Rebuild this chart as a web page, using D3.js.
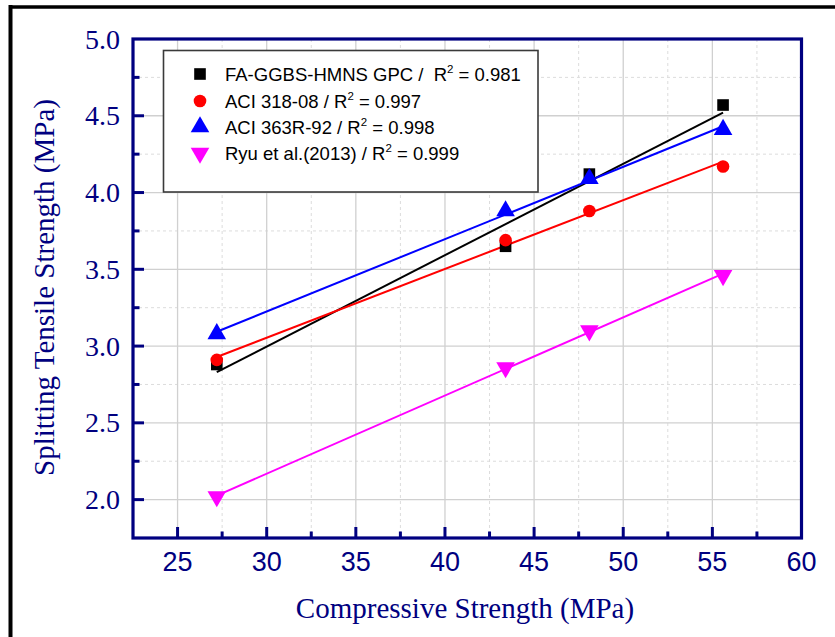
<!DOCTYPE html>
<html>
<head>
<meta charset="utf-8">
<script src="https://cdn.jsdelivr.net/npm/d3@7"></script>
<style>
  html, body { margin: 0; padding: 0; background: #fff; }
  svg { display: block; }
  text { white-space: pre; }
</style>
</head>
<body>
<svg id="chart" width="835" height="637"></svg>
<script>
// Compressive strength of the four mixes (MPa)
const compressive = [27.2, 43.4, 48.1, 55.6];

// Splitting tensile strength (MPa), measured and predicted
const measuredGPC = [2.88, 3.65, 4.12, 4.57];
const aci318 = [2.91, 3.69, 3.88, 4.17];
const aci363 = [3.08, 3.88, 4.09, 4.41];
const ryu2013 = [2.02, 2.86, 3.10, 3.46];

const seriesNames = ["FA-GGBS-HMNS GPC /  R", "ACI 318-08 / R", "ACI 363R-92 / R", "Ryu et al.(2013) / R"];
const rSquared = ["0.981", "0.997", "0.998", "0.999"];
const seriesColors = ["#000000", "#ff0000", "#0000ff", "#ff00ff"];
const seriesSymbols = [d3.symbolSquare, d3.symbolCircle, d3.symbolTriangle, "down"];

const xMajorTicks = [25, 30, 35, 40, 45, 50, 55, 60];
const xMinorTicks = [27.5, 32.5, 37.5, 42.5, 47.5, 52.5, 57.5];
const yMajorTicks = [2.0, 2.5, 3.0, 3.5, 4.0, 4.5, 5.0];
const yMinorTicks = [2.25, 2.75, 3.25, 3.75, 4.25, 4.75];

const allSeries = [measuredGPC, aci318, aci363, ryu2013];

const navy = "#000080";
const svg = d3.select("#chart");

// outer frame (top and left edges)
svg.append("line").attr("x1", 10).attr("x2", 835).attr("y1", 7).attr("y2", 7)
  .attr("stroke", "#000").attr("stroke-width", 3.5);
svg.append("line").attr("x1", 10.5).attr("x2", 10.5).attr("y1", 5).attr("y2", 637)
  .attr("stroke", "#000").attr("stroke-width", 4);

const plot = { left: 133, top: 39, right: 801.5, bottom: 538 };

const x = d3.scaleLinear().domain([22.5, 60]).range([plot.left, plot.right]);
const y = d3.scaleLinear().domain([1.75, 5.0]).range([plot.bottom, plot.top]);

const g = svg.append("g");

// grid: minor dashed, major solid
g.selectAll(".gxm").data(xMinorTicks).join("line")
  .attr("x1", d => x(d)).attr("x2", d => x(d)).attr("y1", plot.top).attr("y2", plot.bottom)
  .attr("stroke", "#dcdcdc").attr("stroke-width", 1).attr("stroke-dasharray", "3,3");
g.selectAll(".gym").data(yMinorTicks).join("line")
  .attr("x1", plot.left).attr("x2", plot.right).attr("y1", d => y(d)).attr("y2", d => y(d))
  .attr("stroke", "#dcdcdc").attr("stroke-width", 1).attr("stroke-dasharray", "3,3");
g.selectAll(".gx").data(xMajorTicks.filter(d => d < 60)).join("line")
  .attr("x1", d => x(d)).attr("x2", d => x(d)).attr("y1", plot.top).attr("y2", plot.bottom)
  .attr("stroke", "#d0d0d0").attr("stroke-width", 1.3);
g.selectAll(".gy").data(yMajorTicks.filter(d => d < 5)).join("line")
  .attr("x1", plot.left).attr("x2", plot.right).attr("y1", d => y(d)).attr("y2", d => y(d))
  .attr("stroke", "#d0d0d0").attr("stroke-width", 1.3);

// least-squares line through each series
function fit(xs, ys) {
  const mx = d3.mean(xs), my = d3.mean(ys);
  let sxy = 0, sxx = 0;
  xs.forEach((v, i) => { sxy += (v - mx) * (ys[i] - my); sxx += (v - mx) * (v - mx); });
  const b = sxy / sxx;
  return v => my + b * (v - mx);
}

const xExtent = d3.extent(compressive);
allSeries.forEach((vals, i) => {
  const f = fit(compressive, vals);
  g.append("line")
    .attr("x1", x(xExtent[0])).attr("y1", y(f(xExtent[0])))
    .attr("x2", x(xExtent[1])).attr("y2", y(f(xExtent[1])))
    .attr("stroke", seriesColors[i]).attr("stroke-width", 2);
});

function symbolPath(sym, size) {
  if (sym === "down") return d3.symbol(d3.symbolTriangle, size)();
  return d3.symbol(sym, size)();
}
function drawMarker(sel, i) {
  const sizes = [135, 125, 150, 150];
  sel.append("path")
    .attr("d", symbolPath(seriesSymbols[i], sizes[i]))
    .attr("fill", seriesColors[i])
    .attr("transform", seriesSymbols[i] === "down" ? "rotate(180)" : null);
}

allSeries.forEach((vals, i) => {
  vals.forEach((v, j) => {
    const m = g.append("g").attr("transform", `translate(${x(compressive[j])},${y(v)})`);
    drawMarker(m, i);
  });
});

// axes frame
g.append("rect")
  .attr("x", plot.left).attr("y", plot.top)
  .attr("width", plot.right - plot.left).attr("height", plot.bottom - plot.top)
  .attr("fill", "none").attr("stroke", navy).attr("stroke-width", 3.2);

// ticks (inward)
g.selectAll(".txM").data(xMajorTicks.filter(d => d < 60)).join("line")
  .attr("x1", d => x(d)).attr("x2", d => x(d)).attr("y1", plot.bottom).attr("y2", plot.bottom - 11)
  .attr("stroke", navy).attr("stroke-width", 3);
g.selectAll(".txm").data(xMinorTicks).join("line")
  .attr("x1", d => x(d)).attr("x2", d => x(d)).attr("y1", plot.bottom).attr("y2", plot.bottom - 6.5)
  .attr("stroke", navy).attr("stroke-width", 3);
g.selectAll(".tyM").data(yMajorTicks.filter(d => d < 5)).join("line")
  .attr("x1", plot.left).attr("x2", plot.left + 11).attr("y1", d => y(d)).attr("y2", d => y(d))
  .attr("stroke", navy).attr("stroke-width", 3);
g.selectAll(".tym").data(yMinorTicks).join("line")
  .attr("x1", plot.left).attr("x2", plot.left + 6.5).attr("y1", d => y(d)).attr("y2", d => y(d))
  .attr("stroke", navy).attr("stroke-width", 3);

// tick labels
g.selectAll(".lx").data(xMajorTicks).join("text")
  .attr("x", d => x(d)).attr("y", 571)
  .attr("text-anchor", "middle")
  .attr("font-family", "Liberation Sans, Arial, sans-serif").attr("font-size", 27)
  .attr("fill", navy).text(d => d);
g.selectAll(".ly").data(yMajorTicks).join("text")
  .attr("x", 120).attr("y", d => y(d) + 9.5)
  .attr("text-anchor", "end")
  .attr("font-family", "Liberation Serif, Times New Roman, serif").attr("font-size", 28)
  .attr("fill", navy).text(d => d.toFixed(1));

// axis titles
svg.append("text")
  .attr("x", 465).attr("y", 618)
  .attr("text-anchor", "middle")
  .attr("font-family", "Liberation Serif, Times New Roman, serif").attr("font-size", 29)
  .attr("fill", navy).text("Compressive Strength (MPa)");
svg.append("text")
  .attr("transform", `translate(54,${(plot.top + plot.bottom) / 2 - 1}) rotate(-90)`)
  .attr("text-anchor", "middle")
  .attr("font-family", "Liberation Serif, Times New Roman, serif").attr("font-size", 29)
  .attr("fill", navy).text("Splitting Tensile Strength (MPa)");

// legend
const legend = svg.append("g");
legend.append("rect")
  .attr("x", 163.5).attr("y", 50.5).attr("width", 374.5).attr("height", 141.5)
  .attr("fill", "#fff").attr("stroke", "#3a3a3a").attr("stroke-width", 1.6);
const rowY = [74, 101, 127, 153];
seriesNames.forEach((name, i) => {
  const m = legend.append("g").attr("transform", `translate(200,${rowY[i]})`);
  drawMarker(m, i);
  const t = legend.append("text")
    .attr("x", 225).attr("y", rowY[i] + 6.5)
    .attr("font-family", "Liberation Sans, Arial, sans-serif").attr("font-size", 18.5)
    .attr("fill", "#000");
  t.append("tspan").text(name);
  t.append("tspan").attr("dy", -8).attr("font-size", 11.5).text("2");
  t.append("tspan").attr("dy", 8).text(" = " + rSquared[i]);
});
</script>
</body>
</html>
